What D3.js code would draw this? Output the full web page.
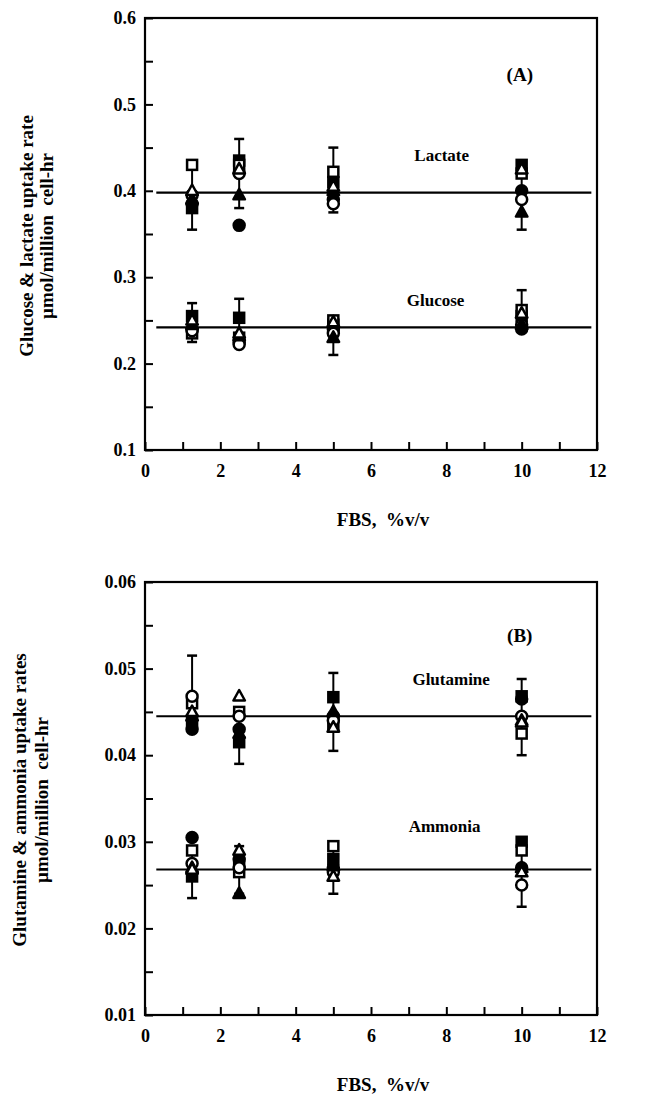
<!DOCTYPE html>
<html>
<head>
<meta charset="utf-8">
<script src="https://cdn.jsdelivr.net/npm/d3@7"></script>
<style>
  html, body { margin: 0; padding: 0; background: #fff; }
  svg { display: block; }
  text { font-family: "Liberation Serif", "DejaVu Serif", serif; font-weight: bold; fill: #000; }
</style>
</head>
<body>
<svg id="chart" width="654" height="1101"></svg>
<script>
// FBS concentrations (% v/v) at which rates were measured
const fbs = [1.25, 2.5, 5, 10];

// Marker shapes, one per experiment
const markerKinds = ["squareFilled", "squareOpen", "circleFilled", "circleOpen", "triangleFilled", "triangleOpen"];

// Panel A: lactate uptake rate per experiment (rows follow markerKinds, columns follow fbs)
const lactate = [
  [0.380, 0.435, 0.410, 0.430],
  [0.430, 0.430, 0.422, 0.420],
  [0.385, 0.360, 0.390, 0.400],
  [0.395, 0.420, 0.385, 0.390],
  [0.390, 0.395, 0.400, 0.375],
  [0.400, 0.425, 0.405, 0.425]
];
const lactateErrLow  = [0.355, 0.380, 0.375, 0.355];
const lactateErrHigh = [0.430, 0.460, 0.450, 0.430];
const lactateMean = 0.398;

// Panel A: glucose uptake rate
const glucose = [
  [0.255, 0.253, 0.245, 0.255],
  [0.235, 0.230, 0.250, 0.262],
  [0.240, 0.225, 0.240, 0.240],
  [0.238, 0.222, 0.235, 0.245],
  [0.245, 0.232, 0.230, 0.245],
  [0.250, 0.235, 0.248, 0.258]
];
const glucoseErrLow  = [0.225, 0.225, 0.210, 0.240];
const glucoseErrHigh = [0.270, 0.275, 0.250, 0.285];
const glucoseMean = 0.242;

// Panel B: glutamine uptake rate
const glutamine = [
  [0.0440, 0.0415, 0.0467, 0.0468],
  [0.0460, 0.0450, 0.0435, 0.0425],
  [0.0430, 0.0430, 0.0445, 0.0465],
  [0.0468, 0.0445, 0.0440, 0.0445],
  [0.0445, 0.0425, 0.0450, 0.0440],
  [0.0450, 0.0468, 0.0432, 0.0438]
];
const glutamineErrLow  = [0.0430, 0.0390, 0.0405, 0.0400];
const glutamineErrHigh = [0.0515, 0.0450, 0.0495, 0.0488];
const glutamineMean = 0.0445;

// Panel B: ammonia uptake rate
const ammonia = [
  [0.0260, 0.0275, 0.0280, 0.0300],
  [0.0290, 0.0265, 0.0295, 0.0290],
  [0.0305, 0.0280, 0.0270, 0.0270],
  [0.0275, 0.0270, 0.0265, 0.0250],
  [0.0270, 0.0240, 0.0272, 0.0270],
  [0.0268, 0.0290, 0.0260, 0.0265]
];
const ammoniaErrLow  = [0.0235, 0.0240, 0.0240, 0.0225];
const ammoniaErrHigh = [0.0290, 0.0295, 0.0295, 0.0300];
const ammoniaMean = 0.0268;

// Axis ticks
const xTicks = [0, 2, 4, 6, 8, 10, 12];
const yTicksA = [0.1, 0.2, 0.3, 0.4, 0.5, 0.6];
const yTicksB = [0.01, 0.02, 0.03, 0.04, 0.05, 0.06];

const svg = d3.select("#chart");

function drawMarker(g, kind, cx, cy) {
  const filled = kind.endsWith("Filled");
  const fill = filled ? "#000" : "#fff";
  const sw = 2.5;
  if (kind.startsWith("square")) {
    const s = 10;
    g.append("rect").attr("x", cx - s / 2).attr("y", cy - s / 2).attr("width", s).attr("height", s)
      .attr("fill", fill).attr("stroke", "#000").attr("stroke-width", sw);
  } else if (kind.startsWith("circle")) {
    g.append("circle").attr("cx", cx).attr("cy", cy).attr("r", 5.5)
      .attr("fill", fill).attr("stroke", "#000").attr("stroke-width", sw);
  } else {
    const h = 10.5, w = 11.5;
    g.append("path")
      .attr("d", `M${cx},${cy - h * 0.6}L${cx + w / 2},${cy + h * 0.4}L${cx - w / 2},${cy + h * 0.4}Z`)
      .attr("fill", fill).attr("stroke", "#000").attr("stroke-width", sw).attr("stroke-linejoin", "round");
  }
}

function panel(opts) {
  const { top, bottom, left, right, yDomain, yTicks, yFmt, minorStep, groups, letter, letterPos, titleLines, titleX, titleY } = opts;
  const x = d3.scaleLinear().domain([0, 12]).range([left, right]);
  const y = d3.scaleLinear().domain(yDomain).range([bottom, top]);
  const g = svg.append("g");

  // frame
  g.append("rect").attr("x", left).attr("y", top).attr("width", right - left).attr("height", bottom - top)
    .attr("fill", "none").attr("stroke", "#000").attr("stroke-width", 2.2);

  // left axis with inward ticks
  const yMinor = d3.range(yDomain[0], yDomain[1] + minorStep / 2, minorStep);
  g.append("g").attr("transform", `translate(${left},0)`)
    .call(d3.axisRight(y).tickValues(yMinor).tickSize(8).tickFormat(""))
    .call(a => a.select(".domain").remove())
    .call(a => a.selectAll("line").attr("stroke-width", 2));
  g.append("g").attr("transform", `translate(${left},0)`)
    .call(d3.axisLeft(y).tickValues(yTicks).tickSize(0).tickPadding(9).tickFormat(yFmt))
    .call(a => a.select(".domain").remove())
    .call(a => a.selectAll("text").style("font-size", "18px").attr("font-family", "Liberation Serif").attr("font-weight", "bold"));

  // bottom axis with inward ticks
  g.append("g").attr("transform", `translate(0,${bottom})`)
    .call(d3.axisTop(x).tickValues(d3.range(0, 13, 1)).tickSize(8).tickFormat(""))
    .call(a => a.select(".domain").remove())
    .call(a => a.selectAll("line").attr("stroke-width", 2));
  g.append("g").attr("transform", `translate(0,${bottom})`)
    .call(d3.axisBottom(x).tickValues(xTicks).tickSize(0).tickPadding(14).tickFormat(d3.format("d")))
    .call(a => a.select(".domain").remove())
    .call(a => a.selectAll("text").style("font-size", "18px").attr("font-family", "Liberation Serif").attr("font-weight", "bold"));

  // x-axis title
  g.append("text").attr("x", (left + right) / 2 + 12).attr("y", bottom + 76)
    .attr("text-anchor", "middle").style("font-size", "19px")
    .attr("xml:space", "preserve")
    .text("FBS,  %v/v");

  // y-axis title (two lines)
  titleLines.forEach((t, i) => {
    g.append("text")
      .attr("transform", `translate(${titleX[i]},${titleY}) rotate(-90)`)
      .attr("text-anchor", "middle").style("font-size", "19px")
      .attr("xml:space", "preserve")
      .text(t);
  });

  // panel letter
  g.append("text").attr("x", x(letterPos[0])).attr("y", y(letterPos[1]))
    .attr("text-anchor", "middle").style("font-size", "19px").text(letter);

  groups.forEach(grp => {
    // mean line
    g.append("line").attr("x1", x(0.3)).attr("x2", x(11.85))
      .attr("y1", y(grp.mean)).attr("y2", y(grp.mean))
      .attr("stroke", "#000").attr("stroke-width", 2.2);

    // label
    g.append("text").attr("x", x(grp.labelPos[0])).attr("y", y(grp.labelPos[1]))
      .attr("text-anchor", "start").style("font-size", "17px").text(grp.label);

    // error bars
    fbs.forEach((f, j) => {
      const cx = x(f);
      g.append("line").attr("x1", cx).attr("x2", cx).attr("y1", y(grp.lo[j])).attr("y2", y(grp.hi[j]))
        .attr("stroke", "#000").attr("stroke-width", 2);
      [grp.lo[j], grp.hi[j]].forEach(v => {
        g.append("line").attr("x1", cx - 5).attr("x2", cx + 5).attr("y1", y(v)).attr("y2", y(v))
          .attr("stroke", "#000").attr("stroke-width", 2.5);
      });
    });

    // markers
    grp.values.forEach((row, k) => {
      row.forEach((v, j) => drawMarker(g, markerKinds[k], x(fbs[j]), y(v)));
    });
  });
}

panel({
  top: 18, bottom: 450, left: 145, right: 597,
  yDomain: [0.1, 0.6], yTicks: yTicksA, yFmt: d3.format(".1f"), minorStep: 0.05,
  letter: "(A)", letterPos: [9.95, 0.527],
  titleLines: ["Glucose & lactate uptake rate", "\u00b5mol/million  cell-hr"],
  titleX: [33, 53], titleY: 236,
  groups: [
    { values: lactate, lo: lactateErrLow, hi: lactateErrHigh, mean: lactateMean, label: "Lactate", labelPos: [7.15, 0.435] },
    { values: glucose, lo: glucoseErrLow, hi: glucoseErrHigh, mean: glucoseMean, label: "Glucose", labelPos: [6.95, 0.267] }
  ]
});

panel({
  top: 582, bottom: 1015, left: 145, right: 597,
  yDomain: [0.01, 0.06], yTicks: yTicksB, yFmt: d3.format(".2f"), minorStep: 0.005,
  letter: "(B)", letterPos: [9.95, 0.0531],
  titleLines: ["Glutamine & ammonia uptake rates", "\u00b5mol/million  cell-hr"],
  titleX: [26, 48], titleY: 800,
  groups: [
    { values: glutamine, lo: glutamineErrLow, hi: glutamineErrHigh, mean: glutamineMean, label: "Glutamine", labelPos: [7.1, 0.0481] },
    { values: ammonia, lo: ammoniaErrLow, hi: ammoniaErrHigh, mean: ammoniaMean, label: "Ammonia", labelPos: [7.0, 0.0311] }
  ]
});
</script>
</body>
</html>
